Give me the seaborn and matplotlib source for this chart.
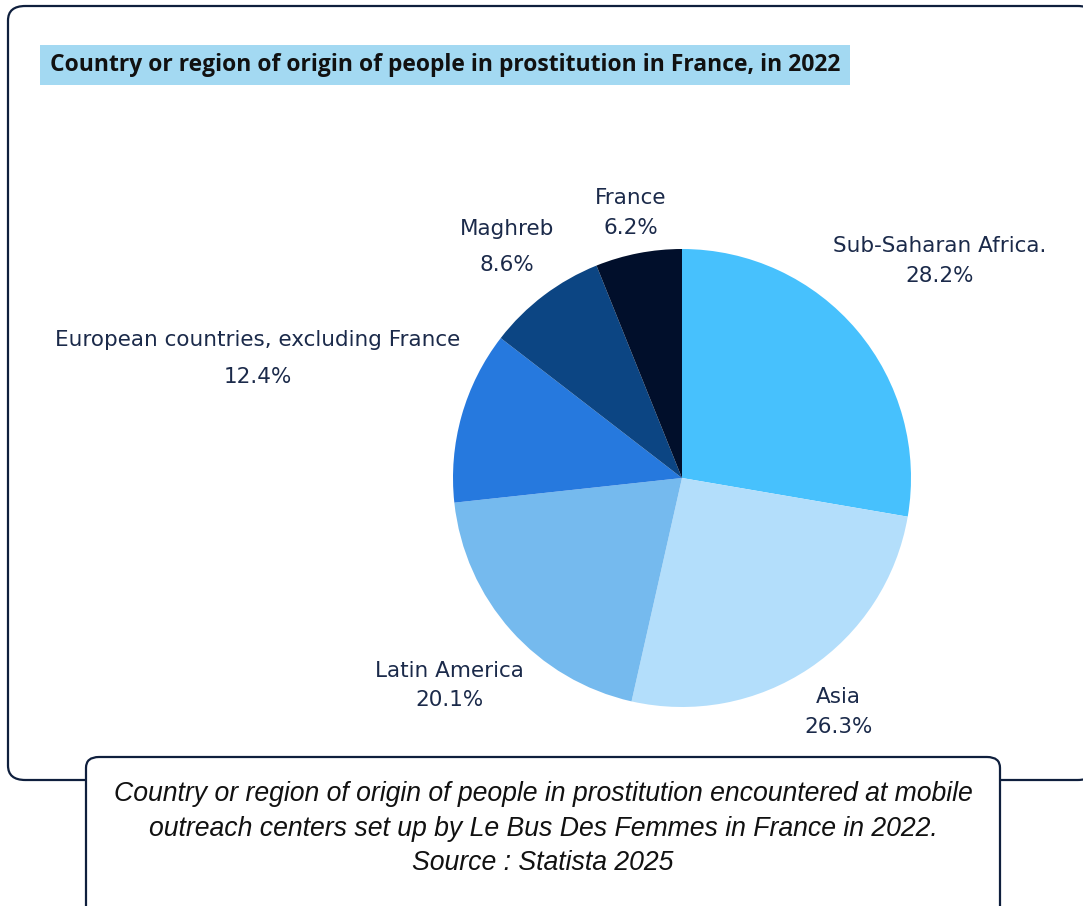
import matplotlib
matplotlib.use("Agg")
import matplotlib.pyplot as plt
import seaborn as sns
import numpy as np
from matplotlib.patches import FancyBboxPatch
from matplotlib import font_manager as fm

categories = ["Sub-Saharan Africa.", "Asia", "Latin America",
              "European countries, excluding France", "Maghreb", "France"]
values = [28.2, 26.3, 20.1, 12.4, 8.6, 6.2]
colors = ["#47c1fd", "#b3defb", "#75baee", "#2679de", "#0c4583", "#010f2b"]
label_dist = [1.47, 1.23, 1.36, 1.925, 1.265, 1.18]
label_gap = [1.66, 1.6, 1.55, 2.05, 1.96, 1.6]

title = "Country or region of origin of people in prostitution in France, in 2022"
caption = ("Country or region of origin of people in prostitution encountered at mobile\n"
           "outreach centers set up by Le Bus Des Femmes in France in 2022.\n"
           "Source : Statista 2025")

sns.set_theme(style="white")
plt.rcParams['font.family'] = ['DejaVu Sans']

# pick a normal-width bold sans for the title
bad = ("condensed", "narrow", "cond", "display", "semi", "extra", "ultra")
title_fp = None
for fam in ["Open Sans", "Noto Sans", "DejaVu Sans"]:
    for f in fm.fontManager.ttflist:
        base = f.fname.lower().split("/")[-1]
        if (f.name == fam and f.style == "normal" and f.stretch == "normal"
                and f.weight in (700, "bold") and not any(b in base for b in bad)):
            title_fp = fm.FontProperties(fname=f.fname)
            break
    if title_fp is not None:
        break
if title_fp is None:
    title_fp = fm.FontProperties(family="DejaVu Sans", weight="bold")

W, H = 1083, 906
fig = plt.figure(figsize=(W / 100, H / 100), dpi=100)
fig.patch.set_facecolor("white")

navy = "#0f1f3d"
outer = FancyBboxPatch((8 / W, (H - 780) / H), (1095 - 8) / W, (780 - 6) / H,
                       boxstyle="round,pad=0,rounding_size=0.016",
                       transform=fig.transFigure, facecolor="white",
                       edgecolor=navy, linewidth=1.6, zorder=-2)
fig.patches.append(outer)

# pie
cx, cy, r = 682, 478, 229
ax = fig.add_axes([(cx - r) / W, (H - cy - r) / H, 2 * r / W, 2 * r / H])
ax.set_zorder(2)
ax.set_facecolor("none")
wedges, _ = ax.pie(values, colors=sns.color_palette(colors), startangle=90,
                   counterclock=False, radius=1,
                   wedgeprops=dict(linewidth=0))
ax.set_xlim(-1, 1)
ax.set_ylim(-1, 1)
ax.set_aspect("equal")
ax.axis("off")

label_color = "#1b2a4a"
for w, name, v, d, g in zip(wedges, categories, values, label_dist, label_gap):
    ang = np.deg2rad((w.theta1 + w.theta2) / 2)
    x, y = d * np.cos(ang), d * np.sin(ang)
    ax.text(x, y, f"{name}\n{v:.1f}%", ha="center", va="center",
            fontsize=15.5, color=label_color, linespacing=g, clip_on=False)

# title (fit to width of reference)
renderer = fig.canvas.get_renderer()
t = fig.text(50 / W, 1 - 65 / H, title, ha="left", va="center",
             fontproperties=title_fp, fontsize=15, color="#111111", zorder=3)
wpx = t.get_window_extent(renderer=renderer).width
t.set_fontsize(15 * 790 / wpx)
fig.patches.append(FancyBboxPatch((40 / W, 1 - 85 / H), 810 / W, 40 / H,
                                  boxstyle="square,pad=0", transform=fig.transFigure,
                                  facecolor="#a3d9f2", edgecolor="none", zorder=-1))

# caption box
cap = FancyBboxPatch((86 / W, -0.02), (1000 - 86) / W, (H - 757) / H + 0.02,
                     boxstyle="round,pad=0,rounding_size=0.012",
                     transform=fig.transFigure, facecolor="white",
                     edgecolor=navy, linewidth=1.6, zorder=3)
fig.patches.append(cap)
fig.text(543 / W, 1 - 828.5 / H, caption, ha="center", va="center",
         fontsize=19.2, style="italic", family="Liberation Sans",
         color="#111111", linespacing=1.42, zorder=4)

fig.savefig("out.png", dpi=100, facecolor="white")
